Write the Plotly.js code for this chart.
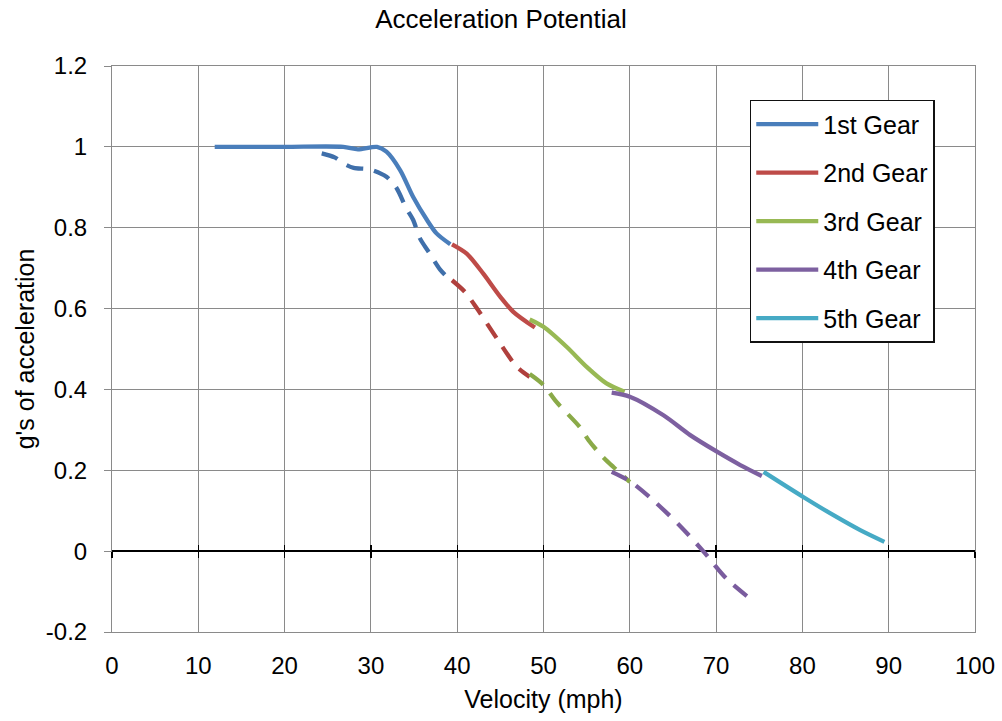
<!DOCTYPE html>
<html>
<head>
<meta charset="utf-8">
<script src="https://cdn.plot.ly/plotly-3.0.1.min.js"></script>
<style>html,body{margin:0;padding:0;background:#fff;}#chart{width:1002px;height:721px;}</style>
</head>
<body>
<div id="chart"></div>
<script>
// Solid curves (actual gear acceleration)
const gear1V = [11.9, 20, 26.8, 28.5, 30.7, 31.8, 33.4, 34.9, 36.5, 37.6, 39.2];
const gear1G = [1.0, 1.0, 1.0, 0.994, 1.0, 0.988, 0.942, 0.876, 0.819, 0.786, 0.759];
const gear2V = [39.4, 41.1, 43.0, 45.0, 46.5, 49.0];
const gear2G = [0.759, 0.736, 0.687, 0.629, 0.592, 0.553];
const gear3V = [48.4, 50.0, 52.7, 55.0, 57.3, 59.4];
const gear3G = [0.573, 0.555, 0.505, 0.456, 0.415, 0.394];
const gear4V = [57.9, 60.0, 63.9, 67.0, 70.1, 72.8, 75.3];
const gear4G = [0.392, 0.382, 0.336, 0.287, 0.246, 0.213, 0.186];
const gear5V = [75.5, 80.1, 83.6, 86.7, 89.5];
const gear5G = [0.196, 0.134, 0.089, 0.052, 0.023];

// Dashed curves
const dash1V = [24.3, 25.8, 26.9, 28.0, 29.9, 31.8, 33.0, 34.1, 34.9, 35.7, 36.7, 38.0, 39.4];
const dash1G = [0.984, 0.974, 0.958, 0.948, 0.944, 0.926, 0.897, 0.848, 0.819, 0.773, 0.740, 0.697, 0.666];
const dash2V = [39.4, 40.9, 42.3, 44.6, 46.9, 48.4];
const dash2G = [0.670, 0.641, 0.600, 0.526, 0.456, 0.431];
const dash3V = [48.4, 50.0, 51.5, 54.2, 55.2, 56.7, 58.1, 60.0];
const dash3G = [0.438, 0.411, 0.369, 0.307, 0.275, 0.237, 0.208, 0.171];
const dash4V = [57.9, 60.0, 62.7, 65.8, 68.5, 71.2, 74.5];
const dash4G = [0.196, 0.173, 0.126, 0.063, 0.0, -0.068, -0.127];

const gearNames = ["1st Gear", "2nd Gear", "3rd Gear", "4th Gear", "5th Gear"];
const xTicks = [0, 10, 20, 30, 40, 50, 60, 70, 80, 90, 100];
const yTicks = [-0.2, 0, 0.2, 0.4, 0.6, 0.8, 1, 1.2];

const solidColors = ["#4A7EBB", "#BE4B48", "#98B954", "#7D60A0", "#46AAC5"];
const dashColors = ["#3F6FAA", "#B0403D", "#8AAA48", "#7A5C9E"];

const solids = [[gear1V, gear1G], [gear2V, gear2G], [gear3V, gear3G], [gear4V, gear4G], [gear5V, gear5G]];
const dashes = [[dash1V, dash1G], [dash2V, dash2G], [dash3V, dash3G], [dash4V, dash4G]];

const traces = [];
dashes.forEach((d, i) => {
  traces.push({
    x: d[0], y: d[1], type: "scatter", mode: "lines",
    line: {color: dashColors[i], width: 4.3, dash: "17px,11px", shape: "spline", smoothing: 0.8},
    showlegend: false, hoverinfo: "skip"
  });
});
solids.forEach((s, i) => {
  traces.push({
    x: s[0], y: s[1], type: "scatter", mode: "lines", name: gearNames[i],
    legendgroup: "g" + i, legendrank: i + 1,
    line: {color: solidColors[i], width: 4.3, shape: "spline", smoothing: 0.8}
  });
});
// empty traces to host the tick-mark axes crossing the zero line
traces.push({x: [], y: [], xaxis: "x2", yaxis: "y", showlegend: false, hoverinfo: "skip", type: "scatter"});
traces.push({x: [], y: [], xaxis: "x3", yaxis: "y", showlegend: false, hoverinfo: "skip", type: "scatter"});

const fam = "Liberation Sans, Arial, sans-serif";
const font = {family: fam, size: 25, color: "#000"};
const tickFont = {family: fam, size: 24, color: "#000"};
const grid = "#8a8a8a";
const zeroPos = (0 - yTicks[0]) / (yTicks[yTicks.length - 1] - yTicks[0]);

const tickAxis = (dir) => ({
  overlaying: "x", anchor: "free", position: zeroPos, side: "bottom",
  range: [xTicks[0], xTicks[xTicks.length - 1]], tickvals: xTicks,
  ticks: dir, ticklen: 6, tickwidth: 1.3, tickcolor: "#000",
  showticklabels: false, showgrid: false, zeroline: false, showline: false
});

const layout = {
  width: 1002, height: 721,
  margin: {l: 112, r: 27, t: 66, b: 89},
  paper_bgcolor: "#fff", plot_bgcolor: "#fff",
  font: font,
  title: {text: "Acceleration Potential", font: {family: fam, size: 26, color: "#000"}, x: 0.5, xanchor: "center", y: 0.974, yanchor: "middle"},
  xaxis: {
    range: [xTicks[0], xTicks[xTicks.length - 1]], tickvals: xTicks, ticktext: xTicks.map(String),
    showgrid: true, gridcolor: grid, gridwidth: 1,
    showline: true, linecolor: grid, linewidth: 1, mirror: true,
    ticks: "", zeroline: false, ticklabelstandoff: 12,
    title: {text: "Velocity (mph)", font: font, standoff: 12},
    tickfont: tickFont
  },
  xaxis2: tickAxis("outside"),
  xaxis3: tickAxis("inside"),
  yaxis: {
    range: [yTicks[0], yTicks[yTicks.length - 1]], tickvals: yTicks, ticktext: yTicks.map(String),
    showgrid: true, gridcolor: grid, gridwidth: 1,
    showline: true, linecolor: grid, linewidth: 1, mirror: true,
    ticks: "outside", ticklen: 7, tickcolor: grid, ticklabelstandoff: 12,
    zeroline: true, zerolinecolor: "#000", zerolinewidth: 1.3,
    title: {text: "g's of acceleration", font: font, standoff: 4},
    tickfont: tickFont
  },
  legend: {
    x: 0.739, y: 0.94, xanchor: "left", yanchor: "top",
    bgcolor: "#fff", bordercolor: "#111", borderwidth: 1.5,
    font: font, tracegroupgap: 13, traceorder: "grouped",
    itemwidth: 62
  },
  showlegend: true
};

Plotly.newPlot("chart", traces, layout, {displayModeBar: false, staticPlot: true});
</script>
</body>
</html>
